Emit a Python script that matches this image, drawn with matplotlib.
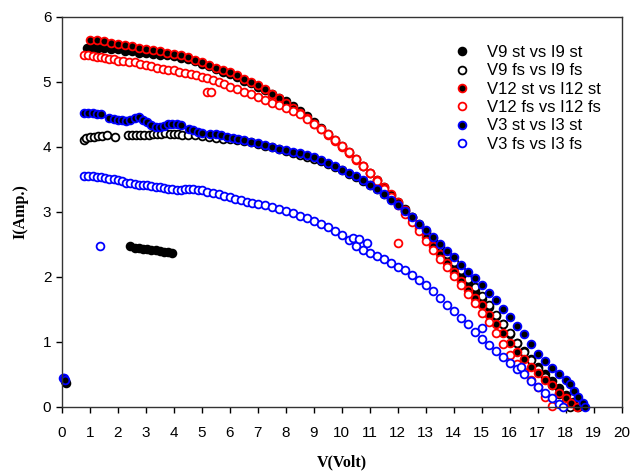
import numpy as np
import matplotlib
matplotlib.use("Agg")
import matplotlib.pyplot as plt

# ---- data (V in volt, I in amp) ----
v9_st_x = [0.12, 0.15,
           0.9, 1.1, 1.3, 1.5, 1.75, 2.0, 2.25, 2.5, 2.75, 3.0, 3.25, 3.5, 3.75, 4.0,
           4.25, 4.5, 4.75, 5.0, 5.25, 5.5, 5.75, 6.0, 6.25, 6.5, 6.75, 7.0, 7.25, 7.5,
           7.75, 8.0, 8.25, 8.5, 8.75, 9.0, 9.25, 9.5, 9.75, 10.0, 10.25, 10.5, 10.75,
           11.0, 11.25, 11.5, 11.75, 12.0, 12.25, 12.5, 12.75, 13.0, 13.25, 13.5, 13.75,
           14.0, 14.25, 14.5, 14.75, 15.0, 15.25, 15.5, 15.75, 16.0, 16.25, 16.5, 16.75,
           17.0, 17.25, 17.5, 17.75, 18.0, 18.25, 18.45,
           2.45, 2.6, 2.75, 2.9, 3.05, 3.2, 3.35, 3.5, 3.65, 3.8, 3.92]
v9_st_y = [0.4, 0.37,
           5.52, 5.53, 5.52, 5.52, 5.5, 5.5, 5.47, 5.47, 5.45, 5.45, 5.43, 5.42, 5.41, 5.4,
           5.37, 5.35, 5.32, 5.28, 5.24, 5.2, 5.16, 5.12, 5.07, 5.02, 4.98, 4.93, 4.88, 4.82,
           4.76, 4.7, 4.63, 4.55, 4.47, 4.38, 4.29, 4.2, 4.11, 4.02, 3.92, 3.82, 3.71,
           3.6, 3.49, 3.38, 3.26, 3.15, 3.04, 2.92, 2.8, 2.68, 2.55, 2.42, 2.29,
           2.16, 2.03, 1.9, 1.78, 1.66, 1.53, 1.4, 1.27, 1.12, 0.98, 0.86, 0.74,
           0.62, 0.51, 0.4, 0.29, 0.18, 0.08, 0.0,
           2.47, 2.44, 2.44, 2.43, 2.43, 2.42, 2.41, 2.4, 2.39, 2.38, 2.37]

v9_fs_x = [0.8, 0.85, 1.0, 1.15, 1.3, 1.45, 1.6, 1.9, 2.35, 2.5, 2.65, 2.8, 2.95, 3.1,
           3.25, 3.4, 3.55, 3.7, 3.85, 4.0, 4.15, 4.3, 4.5, 4.75, 5.0, 5.25, 5.5, 5.75,
           6.0, 6.25, 6.5, 6.75, 7.0, 7.25, 7.5, 7.75, 8.0, 8.25, 8.5, 8.75, 9.0, 9.25,
           9.5, 9.75, 10.0, 10.25, 10.5, 10.75, 11.0, 11.25, 11.5, 11.75, 12.0, 12.25,
           12.5, 12.75, 13.0, 13.25, 13.5, 13.75, 14.0, 14.25, 14.5, 14.75, 15.0, 15.25,
           15.5, 15.75, 16.0, 16.25, 16.5, 16.75, 17.0, 17.25, 17.5, 17.75, 18.0, 18.15]
v9_fs_y = [4.1, 4.14, 4.15, 4.16, 4.17, 4.17, 4.18, 4.16, 4.19, 4.19, 4.19, 4.19, 4.19, 4.19,
           4.2, 4.2, 4.2, 4.21, 4.2, 4.2, 4.2, 4.19, 4.19, 4.18, 4.17, 4.15, 4.14, 4.13,
           4.12, 4.11, 4.09, 4.07, 4.04, 4.02, 4.0, 3.97, 3.94, 3.91, 3.88, 3.85, 3.82, 3.78,
           3.74, 3.69, 3.64, 3.59, 3.54, 3.48, 3.42, 3.35, 3.28, 3.2, 3.12, 3.02,
           2.92, 2.82, 2.71, 2.6, 2.48, 2.36, 2.23, 2.1, 1.97, 1.84, 1.7, 1.56,
           1.42, 1.28, 1.13, 0.99, 0.85, 0.72, 0.58, 0.46, 0.33, 0.2, 0.08, 0.0]

v12_st_x = [1.0, 1.25, 1.5, 1.75, 2.0, 2.25, 2.5, 2.75, 3.0, 3.25, 3.5, 3.75, 4.0, 4.25,
            4.5, 4.75, 5.0, 5.25, 5.5, 5.75, 6.0, 6.25, 6.5, 6.75, 7.0, 7.25, 7.5, 7.75,
            8.0, 8.25, 8.5, 8.75, 9.0, 9.25, 9.5, 9.75, 10.0, 10.25, 10.5, 10.75, 11.0,
            11.25, 11.5, 11.75, 12.0, 12.25, 12.5, 12.75, 13.0, 13.25, 13.5, 13.75, 14.0,
            14.25, 14.5, 14.75, 15.0, 15.25, 15.5, 15.75, 16.0, 16.25, 16.5, 16.75, 17.0,
            17.25, 17.5, 17.75, 18.0, 18.2, 18.4]
v12_st_y = [5.64, 5.64, 5.63, 5.6, 5.58, 5.57, 5.55, 5.52, 5.5, 5.49, 5.47, 5.45, 5.43, 5.41,
            5.38, 5.34, 5.3, 5.26, 5.22, 5.19, 5.15, 5.1, 5.05, 5.0, 4.95, 4.89, 4.82, 4.75,
            4.68, 4.6, 4.52, 4.44, 4.35, 4.27, 4.18, 4.09, 4.0, 3.9, 3.8, 3.7, 3.6,
            3.49, 3.38, 3.27, 3.15, 3.03, 2.9, 2.76, 2.62, 2.48, 2.35, 2.21, 2.07,
            1.93, 1.8, 1.68, 1.56, 1.42, 1.28, 1.14, 0.98, 0.85, 0.74, 0.62, 0.52,
            0.42, 0.33, 0.22, 0.13, 0.06, 0.0]

v12_fs_x = [0.8, 0.95, 1.1, 1.25, 1.4, 1.55, 1.7, 1.85, 2.0, 2.2, 2.4, 2.6, 2.8, 3.0, 3.2,
            3.4, 3.6, 3.8, 4.0, 4.2, 4.4, 4.6, 4.8, 5.0, 5.2, 5.4, 5.6, 5.8, 6.0, 6.25,
            6.5, 6.75, 7.0, 7.25, 7.5, 7.75, 8.0, 8.25, 8.5, 8.75, 9.0, 9.25, 9.5, 9.75,
            10.0, 10.25, 10.5, 10.75, 11.0, 11.25, 11.5, 11.75, 12.0, 12.25, 12.5, 12.75,
            13.0, 13.25, 13.5, 13.75, 14.0, 14.25, 14.5, 14.75, 15.0, 15.25, 15.5, 15.75,
            16.0, 16.25, 16.5, 16.75, 17.0, 17.25, 17.5,
            5.18, 5.32, 12.0]
v12_fs_y = [5.42, 5.41, 5.4, 5.39, 5.38, 5.37, 5.36, 5.35, 5.33, 5.32, 5.31, 5.3, 5.28, 5.26, 5.24,
            5.22, 5.2, 5.19, 5.18, 5.16, 5.14, 5.12, 5.1, 5.08, 5.06, 5.03, 5.0, 4.97, 4.93, 4.89,
            4.85, 4.81, 4.77, 4.72, 4.68, 4.64, 4.6, 4.55, 4.5, 4.43, 4.35, 4.28, 4.2, 4.11,
            4.02, 3.92, 3.82, 3.71, 3.6, 3.48, 3.36, 3.23, 3.1, 2.97, 2.84, 2.7,
            2.56, 2.42, 2.28, 2.15, 2.02, 1.88, 1.74, 1.6, 1.45, 1.3, 1.14, 0.97,
            0.8, 0.66, 0.54, 0.42, 0.3, 0.15, 0.02,
            4.85, 4.85, 2.52]

v3_st_x = [0.03, 0.07, 0.1,
           0.8, 0.95, 1.1, 1.25, 1.4, 1.7, 1.85, 2.0, 2.15, 2.3, 2.45, 2.6, 2.75, 2.9, 3.05,
           3.2, 3.35, 3.5, 3.65, 3.8, 3.95, 4.1, 4.25, 4.55, 4.7, 4.85, 5.0, 5.3, 5.5, 5.7,
           5.9, 6.1, 6.3, 6.5, 6.75, 7.0, 7.25, 7.5, 7.75, 8.0, 8.25, 8.5, 8.75, 9.0, 9.25,
           9.5, 9.75, 10.0, 10.25, 10.5, 10.75, 11.0, 11.25, 11.5, 11.75, 12.0, 12.25,
           12.5, 12.75, 13.0, 13.25, 13.5, 13.75, 14.0, 14.25, 14.5, 14.75, 15.0, 15.25,
           15.5, 15.75, 16.0, 16.25, 16.5, 16.75, 17.0, 17.25, 17.5, 17.75, 18.0, 18.15,
           18.3, 18.45, 18.6, 18.7]
v3_st_y = [0.45, 0.44, 0.41,
           4.53, 4.52, 4.52, 4.51, 4.51, 4.45, 4.43, 4.42, 4.41, 4.4, 4.42, 4.44, 4.46, 4.42, 4.38,
           4.34, 4.31, 4.3, 4.33, 4.35, 4.36, 4.35, 4.34, 4.28, 4.26, 4.23, 4.21, 4.2, 4.2, 4.19,
           4.16, 4.14, 4.12, 4.1, 4.08, 4.06, 4.03, 4.0, 3.97, 3.95, 3.92, 3.9, 3.87, 3.84, 3.8,
           3.75, 3.7, 3.65, 3.6, 3.55, 3.49, 3.42, 3.35, 3.27, 3.19, 3.1, 3.01,
           2.92, 2.82, 2.72, 2.61, 2.5, 2.4, 2.3, 2.19, 2.08, 1.98, 1.87, 1.76,
           1.65, 1.51, 1.38, 1.25, 1.12, 0.97, 0.82, 0.71, 0.6, 0.5, 0.42, 0.35,
           0.25, 0.15, 0.06, 0.0]

v3_fs_x = [0.8, 0.95, 1.1, 1.25, 1.4, 1.55, 1.7, 1.85, 2.0, 2.15, 2.3, 2.45, 2.6, 2.75, 2.9,
           3.05, 3.2, 3.35, 3.5, 3.65, 3.8, 3.95, 4.1, 4.25, 4.4, 4.55, 4.7, 4.85, 5.0, 5.2,
           5.4, 5.6, 5.8, 6.0, 6.2, 6.4, 6.6, 6.8, 7.0, 7.25, 7.5, 7.75, 8.0, 8.25, 8.5,
           8.75, 9.0, 9.25, 9.5, 9.75, 10.0, 10.25, 10.5, 10.75, 11.0, 11.25, 11.5, 11.75,
           12.0, 12.25, 12.5, 12.75, 13.0, 13.25, 13.5, 13.75, 14.0, 14.25, 14.5, 14.75,
           15.0, 15.25, 15.5, 15.75, 16.0, 16.25, 16.5, 16.75, 17.0, 17.25, 17.5, 17.75, 17.9,
           1.35, 10.4, 10.6, 10.9, 15.0, 16.4]
v3_fs_y = [3.56, 3.56, 3.56, 3.54, 3.53, 3.52, 3.51, 3.51, 3.49, 3.47, 3.45, 3.44, 3.43, 3.42, 3.41,
           3.41, 3.4, 3.39, 3.38, 3.37, 3.36, 3.35, 3.34, 3.34, 3.35, 3.35, 3.35, 3.34, 3.33, 3.31,
           3.29, 3.27, 3.25, 3.23, 3.2, 3.18, 3.15, 3.14, 3.12, 3.1, 3.07, 3.04, 3.01, 2.98, 2.94,
           2.9, 2.86, 2.82, 2.77, 2.71, 2.64, 2.57, 2.47, 2.42, 2.37, 2.32, 2.27, 2.22,
           2.16, 2.1, 2.03, 1.96, 1.88, 1.78, 1.68, 1.57, 1.47, 1.37, 1.27, 1.15,
           1.04, 0.95, 0.86, 0.77, 0.68, 0.59, 0.5, 0.4, 0.31, 0.22, 0.13, 0.05, 0.0,
           2.47, 2.6, 2.58, 2.52, 1.22, 0.62]

series = [
    ("V9 st vs I9 st", v9_st_x, v9_st_y, "black", "black"),
    ("V9 fs vs I9 fs", v9_fs_x, v9_fs_y, "black", "white"),
    ("V12 st vs I12 st", v12_st_x, v12_st_y, "#ff0000", "black"),
    ("V12 fs vs I12 fs", v12_fs_x, v12_fs_y, "#ff0000", "white"),
    ("V3 st vs I3 st", v3_st_x, v3_st_y, "#0000ff", "black"),
    ("V3 fs vs I3 fs", v3_fs_x, v3_fs_y, "#0000ff", "white"),
]

fig = plt.figure(figsize=(6.3, 4.72), dpi=100)
ax = fig.add_axes([0.098, 0.138, 0.889, 0.826])

for label, xs, ys, edge, face in series:
    ax.plot(xs, ys, linestyle="none", marker="o", markersize=5.6,
            markeredgewidth=1.3, markeredgecolor=edge, markerfacecolor=face,
            label=label, clip_on=False)

ax.set_xlim(0, 20)
ax.set_ylim(0, 6)
ax.set_xticks(range(0, 21))
ax.set_yticks(range(0, 7))
ax.tick_params(direction="out", length=4, width=1, labelsize=11,
               top=False, right=False)
ax.tick_params(axis="x", pad=10)
for lab in ax.get_xticklabels() + ax.get_yticklabels():
    lab.set_family("Liberation Sans")
for sp in ax.spines.values():
    sp.set_linewidth(1)
    sp.set_color("#333333")

ax.set_xlabel("V(Volt)", family="Liberation Serif", fontweight="bold",
              fontsize=11.5, labelpad=10)
ax.set_ylabel("I(Amp.)", family="Liberation Serif", fontweight="bold",
              fontsize=11.5, labelpad=10)

leg = ax.legend(loc="upper right", bbox_to_anchor=(0.975, 0.945), frameon=False,
                borderaxespad=0, prop={"family": "Liberation Sans", "size": 12},
                handletextpad=0.7, handlelength=1.6, labelspacing=0.2)

fig.savefig("out.png", dpi=100)
